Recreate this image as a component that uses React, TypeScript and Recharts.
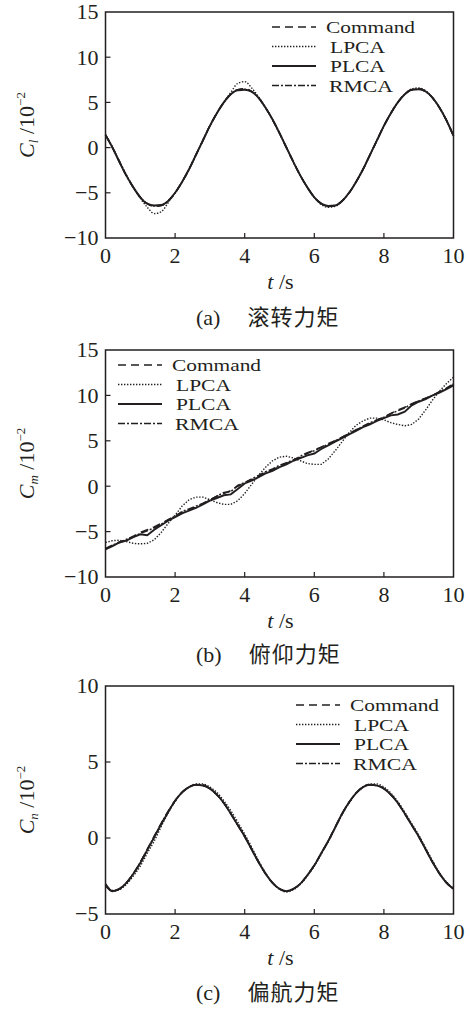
import React from 'react';
import { LineChart, Line, XAxis, YAxis, ReferenceArea, Legend, Label } from 'recharts';

const INK = '#231f20';
const SERIF = '"Liberation Serif", "Times New Roman", "Noto Sans CJK SC", serif';

// time axis, 0..10 s every 0.2 s
const TIME = [
  0, 0.2, 0.4, 0.6, 0.8, 1.0, 1.2, 1.4, 1.6, 1.8,
  2.0, 2.2, 2.4, 2.6, 2.8, 3.0, 3.2, 3.4, 3.6, 3.8,
  4.0, 4.2, 4.4, 4.6, 4.8, 5.0, 5.2, 5.4, 5.6, 5.8,
  6.0, 6.2, 6.4, 6.6, 6.8, 7.0, 7.2, 7.4, 7.6, 7.8,
  8.0, 8.2, 8.4, 8.6, 8.8, 9.0, 9.2, 9.4, 9.6, 9.8,
  10.0,
];
const X_TICKS = [0, 2, 4, 6, 8, 10];

// (a) roll moment C_l, 10^-2
const CL_COMMAND = [
  1.4, 0.0, -1.6, -3.1, -4.4, -5.5, -6.2, -6.5, -6.4, -5.9,
  -5.0, -3.8, -2.4, -0.8, 0.8, 2.4, 3.8, 5.0, 5.9, 6.4,
  6.5, 6.2, 5.5, 4.4, 3.1, 1.6, 0.0, -1.6, -3.1, -4.4,
  -5.5, -6.2, -6.5, -6.4, -5.9, -5.0, -3.8, -2.4, -0.8, 0.8,
  2.4, 3.8, 5.0, 5.9, 6.4, 6.5, 6.2, 5.5, 4.4, 3.0,
  1.3,
];
const CL_LPCA = [
  1.4, 0.1, -1.5, -3.0, -4.4, -5.6, -6.6, -7.3, -7.1, -6.1,
  -5.0, -3.8, -2.4, -0.8, 0.8, 2.4, 3.8, 5.0, 6.1, 7.1,
  7.3, 6.6, 5.6, 4.4, 3.1, 1.6, 0.0, -1.6, -3.1, -4.4,
  -5.5, -6.3, -6.6, -6.5, -5.9, -5.0, -3.8, -2.4, -0.8, 0.8,
  2.4, 3.8, 5.0, 5.9, 6.5, 6.6, 6.3, 5.5, 4.4, 3.0,
  1.3,
];
const CL_PLCA = [
  1.4, 0.0, -1.6, -3.1, -4.4, -5.5, -6.2, -6.4, -6.35, -5.9,
  -5.0, -3.8, -2.4, -0.8, 0.8, 2.4, 3.8, 5.0, 5.9, 6.35,
  6.4, 6.2, 5.5, 4.4, 3.1, 1.6, 0.0, -1.6, -3.1, -4.4,
  -5.5, -6.2, -6.45, -6.4, -5.9, -5.0, -3.8, -2.4, -0.8, 0.8,
  2.4, 3.8, 5.0, 5.9, 6.4, 6.45, 6.2, 5.5, 4.4, 3.0,
  1.3,
];
const CL_RMCA = [
  1.4, 0.0, -1.5, -3.1, -4.4, -5.5, -6.2, -6.45, -6.4, -5.9,
  -5.0, -3.8, -2.4, -0.8, 0.8, 2.4, 3.8, 5.0, 5.9, 6.4,
  6.45, 6.2, 5.5, 4.4, 3.1, 1.6, 0.0, -1.6, -3.1, -4.4,
  -5.5, -6.2, -6.5, -6.4, -5.9, -5.0, -3.8, -2.4, -0.8, 0.8,
  2.4, 3.8, 5.0, 5.9, 6.4, 6.5, 6.2, 5.5, 4.4, 3.0,
  1.3,
];

// (b) pitch moment C_m, 10^-2
const CM_COMMAND = [
  -6.9, -6.5, -6.2, -5.9, -5.5, -5.1, -4.8, -4.5, -4.1, -3.7,
  -3.3, -2.9, -2.6, -2.3, -1.9, -1.5, -1.1, -0.8, -0.5, 0.0,
  0.4, 0.7, 1.1, 1.5, 1.8, 2.2, 2.5, 2.9, 3.2, 3.6,
  4.0, 4.3, 4.7, 5.0, 5.4, 5.8, 6.2, 6.6, 6.9, 7.3,
  7.6, 8.0, 8.4, 8.7, 9.0, 9.4, 9.7, 10.0, 10.4, 10.8,
  11.2,
];
const CM_LPCA = [
  -6.2, -6.0, -5.95, -6.1, -6.3, -6.35, -6.3, -5.9, -5.1, -4.1,
  -3.2, -2.2, -1.5, -1.2, -1.2, -1.5, -1.8, -2.0, -2.0, -1.6,
  -0.8, 0.2, 1.2, 2.1, 2.8, 3.2, 3.3, 3.1, 2.8, 2.5,
  2.4, 2.4, 3.0, 3.9, 4.9, 5.9, 6.7, 7.2, 7.5, 7.5,
  7.3, 7.0, 6.8, 6.65, 6.8, 7.4, 8.4, 9.5, 10.5, 11.3,
  12.0,
];
const CM_PLCA = [
  -6.95, -6.6, -6.2, -6.0, -5.6, -5.3, -5.4, -4.8, -4.3, -3.8,
  -3.4, -3.0, -2.7, -2.4, -2.0, -1.6, -1.3, -1.0, -0.9, -0.3,
  0.3, 0.6, 1.0, 1.4, 1.7, 2.1, 2.4, 2.8, 3.1, 3.4,
  3.6, 4.1, 4.5, 4.9, 5.3, 5.7, 6.1, 6.5, 6.8, 7.2,
  7.5, 7.8, 7.9, 8.2, 8.9, 9.3, 9.6, 10.0, 10.3, 10.7,
  11.1,
];
const CM_RMCA = [
  -6.85, -6.5, -6.15, -5.85, -5.6, -5.2, -4.9, -4.6, -4.2, -3.7,
  -3.3, -2.8, -2.5, -2.2, -1.9, -1.5, -1.1, -0.7, -0.6, 0.1,
  0.4, 0.8, 1.2, 1.6, 1.9, 2.3, 2.6, 2.9, 3.3, 3.7,
  3.9, 4.3, 4.6, 5.0, 5.4, 5.8, 6.2, 6.6, 7.0, 7.3,
  7.6, 8.0, 8.3, 8.6, 9.1, 9.4, 9.7, 10.0, 10.4, 10.8,
  11.3,
];

// (c) yaw moment C_n, 10^-2
const CN_COMMAND = [
  -3.1, -3.5, -3.35, -2.95, -2.35, -1.6, -0.75, 0.1, 0.95, 1.75,
  2.45, 3.0, 3.35, 3.5, 3.45, 3.25, 2.85, 2.3, 1.6, 0.85,
  0.1, -0.75, -1.6, -2.35, -2.95, -3.35, -3.5, -3.35, -3.0, -2.45,
  -1.8, -1.0, -0.2, 0.7, 1.6, 2.35, 2.95, 3.35, 3.5, 3.45,
  3.25, 2.85, 2.3, 1.6, 0.85, 0.1, -0.75, -1.6, -2.35, -2.95,
  -3.35,
];
const CN_LPCA = [
  -3.05, -3.5, -3.4, -3.05, -2.5, -1.85, -1.0, -0.2, 0.75, 1.65,
  2.4, 3.0, 3.35, 3.55, 3.55, 3.35, 3.0, 2.45, 1.8, 1.05,
  0.25, -0.6, -1.5, -2.3, -2.95, -3.35, -3.55, -3.4, -3.05, -2.5,
  -1.85, -1.05, -0.25, 0.65, 1.55, 2.3, 2.95, 3.35, 3.55, 3.55,
  3.35, 2.95, 2.4, 1.7, 0.95, 0.2, -0.65, -1.5, -2.3, -2.9,
  -3.3,
];
const CN_PLCA = [
  -3.1, -3.5, -3.35, -2.95, -2.35, -1.65, -0.8, 0.05, 0.9, 1.7,
  2.45, 3.0, 3.35, 3.5, 3.45, 3.25, 2.85, 2.3, 1.6, 0.85,
  0.1, -0.75, -1.6, -2.35, -2.95, -3.35, -3.5, -3.35, -3.0, -2.45,
  -1.8, -1.0, -0.2, 0.7, 1.6, 2.35, 2.95, 3.35, 3.5, 3.45,
  3.25, 2.85, 2.3, 1.6, 0.85, 0.1, -0.75, -1.6, -2.35, -2.95,
  -3.35,
];
const CN_RMCA = [
  -3.0, -3.45, -3.35, -2.95, -2.35, -1.6, -0.75, 0.1, 0.95, 1.75,
  2.45, 3.0, 3.35, 3.5, 3.5, 3.25, 2.85, 2.3, 1.6, 0.85,
  0.1, -0.75, -1.6, -2.35, -2.95, -3.35, -3.5, -3.35, -3.0, -2.45,
  -1.8, -1.0, -0.2, 0.7, 1.6, 2.35, 2.95, 3.35, 3.5, 3.45,
  3.25, 2.85, 2.3, 1.6, 0.85, 0.1, -0.75, -1.6, -2.35, -2.95,
  -3.35,
];

const SERIES = [
  { key: 'command', name: 'Command', dash: '8 5', width: 1.6, textX: 56, textLen: 89 },
  { key: 'lpca', name: 'LPCA', dash: '1.4 1.6', width: 1.4, textX: 60, textLen: 55 },
  { key: 'plca', name: 'PLCA', dash: undefined, width: 1.9, textX: 60, textLen: 55 },
  { key: 'rmca', name: 'RMCA', dash: '7 2 2 2', width: 1.5, textX: 59, textLen: 64 },
];

const PANELS = [
  {
    id: 'a', caption: '滚转力矩', sub: 'l', top: 0, plotHeight: 226, captionTop: 305,
    domain: [-10, 15], yTicks: [-10, -5, 0, 5, 10, 15],
    values: [CL_COMMAND, CL_LPCA, CL_PLCA, CL_RMCA],
    legendLeft: 270, legendTop: 17, curve: 'monotone',
  },
  {
    id: 'b', caption: '俯仰力矩', sub: 'm', top: 338, plotHeight: 227, captionTop: 304,
    domain: [-10, 15], yTicks: [-10, -5, 0, 5, 10, 15],
    values: [CM_COMMAND, CM_LPCA, CM_PLCA, CM_RMCA],
    legendLeft: 116, legendTop: 17, curve: 'linear',
  },
  {
    id: 'c', caption: '偏航力矩', sub: 'n', top: 674, plotHeight: 228, captionTop: 306,
    domain: [-5, 10], yTicks: [-5, 0, 5, 10],
    values: [CN_COMMAND, CN_LPCA, CN_PLCA, CN_RMCA],
    legendLeft: 294, legendTop: 21, curve: 'monotone',
  },
];

const fmt = (v: number) => (v < 0 ? '\u2212' + Math.abs(v) : String(v));

const XTick = (props: any) => {
  const { x, y, payload } = props;
  const v = payload.value;
  const axisY = y - 9;
  return (
    <g>
      {v > 0 && v < 10 && <line x1={x} x2={x} y1={axisY} y2={axisY - 5} stroke={INK} strokeWidth={1.2} />}
      <text x={x} y={y} dy="0.71em" textAnchor="middle" fontSize={22} fontFamily={SERIF} fill={INK}>
        {fmt(v)}
      </text>
    </g>
  );
};

const makeYTick = (lo: number, hi: number) => (props: any) => {
  const { x, y, payload } = props;
  const v = payload.value;
  const axisX = x + 7;
  return (
    <g>
      {v > lo && v < hi && <line x1={axisX} x2={axisX + 5} y1={y} y2={y} stroke={INK} strokeWidth={1.2} />}
      <text x={x} y={y} dy="0.34em" textAnchor="end" fontSize={22} fontFamily={SERIF} fill={INK}>
        {fmt(v)}
      </text>
    </g>
  );
};

// legend rows are tight in the original, so a smaller face stretched to the same width
const renderLegend = () => (
  <svg width={170} height={82}>
    {SERIES.map((s, i) => {
      const y = 10 + i * 19.5;
      return (
        <g key={s.key}>
          <line x1={2} x2={46} y1={y} y2={y} stroke={INK} strokeWidth={s.width} strokeDasharray={s.dash} />
          <text
            x={s.textX}
            y={y}
            dy="0.36em"
            fontSize={17.5}
            fontFamily={SERIF}
            fill={INK}
            textLength={s.textLen}
            lengthAdjust="spacingAndGlyphs"
          >
            {s.name}
          </text>
        </g>
      );
    })}
  </svg>
);

const MomentPanel = ({ panel }: { panel: (typeof PANELS)[number] }) => {
  const rows = TIME.map((t, i) => {
    const row: Record<string, number> = { t };
    SERIES.forEach((s, k) => { row[s.key] = panel.values[k][i]; });
    return row;
  });
  const [lo, hi] = panel.domain;
  const height = 12 + panel.plotHeight + 60;

  return (
    <div style={{ position: 'absolute', left: 0, top: panel.top, width: 470 }}>
      <LineChart width={470} height={height} data={rows} margin={{ top: 12, right: 16.5, bottom: 0, left: 0 }}>
        <XAxis
          dataKey="t"
          type="number"
          domain={[0, 10]}
          ticks={X_TICKS}
          axisLine={false}
          tickLine={false}
          tickSize={0}
          tickMargin={9}
          height={60}
          tick={<XTick />}
        >
          <Label
            content={(p: any) => {
              const vb = p.viewBox;
              return (
                <text x={vb.x + vb.width / 2 + 1} y={vb.y + 51} textAnchor="middle" fontSize={22} fontFamily={SERIF} fill={INK}>
                  <tspan fontStyle="italic">t</tspan>
                  <tspan> /s</tspan>
                </text>
              );
            }}
          />
        </XAxis>
        <YAxis
          type="number"
          domain={panel.domain}
          ticks={panel.yTicks}
          axisLine={false}
          tickLine={false}
          tickSize={0}
          tickMargin={7}
          width={105.5}
          tick={makeYTick(lo, hi)}
        >
          <Label
            content={(p: any) => {
              const vb = p.viewBox;
              const cx = 27;
              const cy = vb.y + vb.height / 2;
              return (
                <text
                  x={cx}
                  y={cy}
                  transform={`rotate(-90 ${cx} ${cy})`}
                  textAnchor="middle"
                  dy="0.34em"
                  fontSize={22}
                  fontFamily={SERIF}
                  fill={INK}
                >
                  <tspan fontStyle="italic">C</tspan>
                  <tspan fontStyle="italic" fontSize={13} dy={4}>{panel.sub}</tspan>
                  <tspan dy={-4}> /10</tspan>
                  <tspan fontSize={13} dy={-9}>{'\u2212'}2</tspan>
                </text>
              );
            }}
          />
        </YAxis>
        <ReferenceArea x1={0} x2={10} y1={lo} y2={hi} fill="none" stroke={INK} strokeWidth={1.5} ifOverflow="visible" />
        <Legend
          layout="vertical"
          align="center"
          verticalAlign="middle"
          content={renderLegend}
          wrapperStyle={{ left: panel.legendLeft, top: panel.legendTop, width: 170 }}
        />
        {SERIES.map((s) => (
          <Line
            key={s.key}
            type={panel.curve as any}
            dataKey={s.key}
            name={s.name}
            stroke={INK}
            strokeWidth={s.width}
            strokeDasharray={s.dash}
            dot={false}
            activeDot={false}
            isAnimationActive={false}
          />
        ))}
      </LineChart>
      <div
        style={{
          position: 'absolute',
          top: panel.captionTop,
          left: 196,
          fontFamily: SERIF,
          fontSize: 22,
          color: INK,
          whiteSpace: 'nowrap',
          lineHeight: '26px',
        }}
      >
        <span>({panel.id})</span>
        <span style={{ marginLeft: 27, letterSpacing: 1 }}>{panel.caption}</span>
      </div>
    </div>
  );
};

export default function App() {
  return (
    <div style={{ position: 'absolute', left: 0, top: 0, width: 470, height: 1009, background: '#fff' }}>
      {PANELS.map((p) => (
        <MomentPanel key={p.id} panel={p} />
      ))}
    </div>
  );
}
